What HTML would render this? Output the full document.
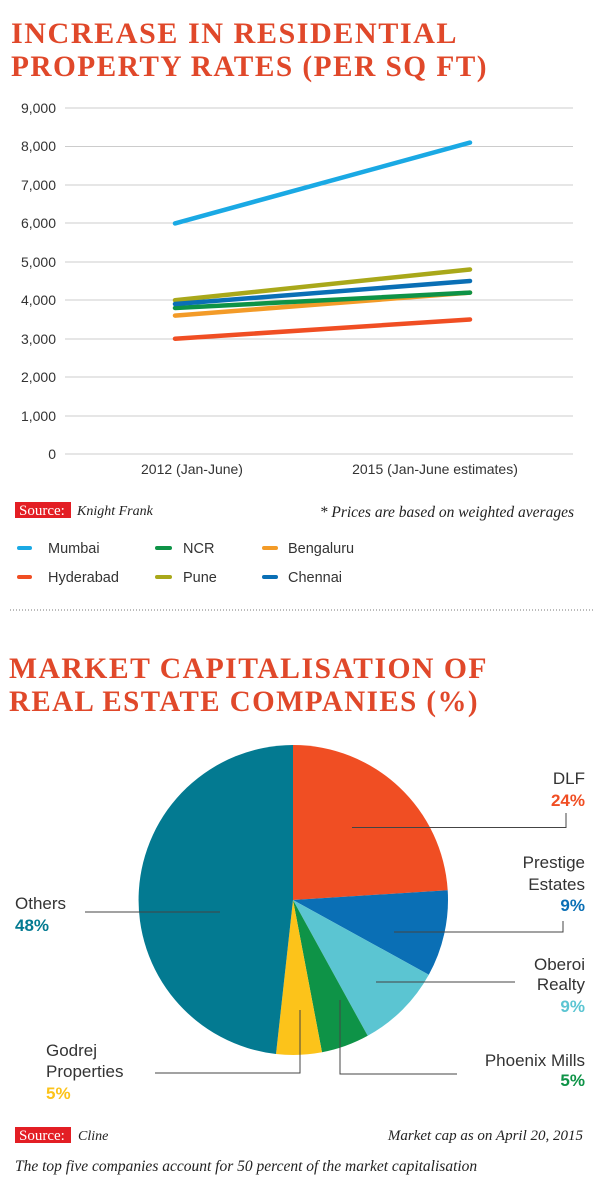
<!DOCTYPE html>
<html><head><meta charset="utf-8"><style>
body{margin:0;background:#fff;width:600px;height:1198px;overflow:hidden;}
</style></head><body>
<svg width="600" height="1198" xmlns="http://www.w3.org/2000/svg" font-family="Liberation Sans, sans-serif">
<g font-family="Liberation Serif, serif" font-weight="bold" fill="#e0482a" font-size="30" letter-spacing="1.5">
<text x="11" y="43" textLength="447" lengthAdjust="spacingAndGlyphs">INCREASE IN RESIDENTIAL</text>
<text x="11" y="76" textLength="477" lengthAdjust="spacingAndGlyphs">PROPERTY RATES (PER SQ FT)</text>
<text x="9" y="678" textLength="479" lengthAdjust="spacingAndGlyphs">MARKET CAPITALISATION OF</text>
<text x="9" y="711" textLength="470" lengthAdjust="spacingAndGlyphs">REAL ESTATE COMPANIES (%)</text>
</g>
<g stroke="#ccc" stroke-width="1">
<line x1="65" x2="573" y1="108" y2="108"/><line x1="65" x2="573" y1="146.5" y2="146.5"/><line x1="65" x2="573" y1="185" y2="185"/><line x1="65" x2="573" y1="223" y2="223"/><line x1="65" x2="573" y1="262" y2="262"/><line x1="65" x2="573" y1="300" y2="300"/><line x1="65" x2="573" y1="339" y2="339"/><line x1="65" x2="573" y1="377" y2="377"/><line x1="65" x2="573" y1="416" y2="416"/><line x1="65" x2="573" y1="454" y2="454"/>
</g>
<g font-size="14" fill="#333" text-anchor="end">
<text x="56" y="113">9,000</text><text x="56" y="151">8,000</text><text x="56" y="190">7,000</text><text x="56" y="228">6,000</text><text x="56" y="267">5,000</text><text x="56" y="305">4,000</text><text x="56" y="344">3,000</text><text x="56" y="382">2,000</text><text x="56" y="421">1,000</text><text x="56" y="459">0</text>
</g>
<g font-size="14" fill="#333" text-anchor="middle">
<text x="192" y="474">2012 (Jan-June)</text><text x="435" y="474">2015 (Jan-June estimates)</text>
</g>
<g stroke-width="4.5" stroke-linecap="round">
<line x1="175" y1="223.4" x2="470" y2="142.6" stroke="#1aa9e4"/>
<line x1="175" y1="300.2" x2="470" y2="269.5" stroke="#a9a81a"/>
<line x1="175" y1="315.6" x2="470" y2="292.6" stroke="#f39b28"/>
<line x1="175" y1="308" x2="470" y2="292.6" stroke="#0e9347"/>
<line x1="175" y1="304" x2="470" y2="281" stroke="#0a6fb5"/>
<line x1="175" y1="338.7" x2="470" y2="319.5" stroke="#f04e23"/>
</g>
<rect x="15" y="502" width="56" height="16" fill="#e31e24"/>
<text x="19" y="515" font-family="Liberation Serif, serif" font-size="15" fill="#fff">Source:</text>
<text x="77" y="515" font-family="Liberation Serif, serif" font-style="italic" font-size="14" fill="#222">Knight Frank</text>
<text x="574" y="517" text-anchor="end" font-family="Liberation Serif, serif" font-style="italic" font-size="15.5" fill="#222">* Prices are based on weighted averages</text>
<g stroke-width="4" stroke-linecap="round">
<line x1="19" x2="30" y1="548" y2="548" stroke="#1aa9e4"/><line x1="19" x2="30" y1="577" y2="577" stroke="#f04e23"/>
<line x1="157" x2="170" y1="548" y2="548" stroke="#0e9347"/><line x1="157" x2="170" y1="577" y2="577" stroke="#a9a81a"/>
<line x1="264" x2="276" y1="548" y2="548" stroke="#f39b28"/><line x1="264" x2="276" y1="577" y2="577" stroke="#0a6fb5"/>
</g>
<g font-size="14.5" fill="#333">
<text x="48" y="553">Mumbai</text><text x="48" y="582">Hyderabad</text>
<text x="183" y="553">NCR</text><text x="183" y="582">Pune</text>
<text x="288" y="553">Bengaluru</text><text x="288" y="582">Chennai</text>
</g>
<line x1="10" x2="593" y1="610" y2="610" stroke="#777" stroke-width="1" stroke-dasharray="1,2"/>
<g>
<path d="M293,900 L293,745 A155,155 0 0,1 447.7,890.3 Z" fill="#f04e23"/>
<path d="M293,900 L447.7,890.3 A155,155 0 0,1 428.8,974.7 Z" fill="#0a6fb5"/>
<path d="M293,900 L428.8,974.7 A155,155 0 0,1 367.7,1035.8 Z" fill="#5bc5d2"/>
<path d="M293,900 L367.7,1035.8 A155,155 0 0,1 322,1052.3 Z" fill="#0e9347"/>
<path d="M293,900 L322,1052.3 A155,155 0 0,1 276,1054 Z" fill="#fcc31a"/>
<path d="M293,900 L276,1054 A155,155 0 0,1 293,745 Z" fill="#037a91"/>
</g>
<g stroke="#444" stroke-width="1" fill="none">
<polyline points="352,827.5 566,827.5 566,813"/>
<polyline points="394,932 563,932 563,921"/>
<polyline points="376,982 515,982"/>
<polyline points="340,1000 340,1074 457,1074"/>
<polyline points="300,1010 300,1073 155,1073"/>
<polyline points="220,912 85,912"/>
</g>
<g font-size="17" fill="#333" text-anchor="end">
<text x="585" y="784">DLF</text>
<text x="585" y="868">Prestige</text><text x="585" y="890">Estates</text>
<text x="585" y="970">Oberoi</text><text x="585" y="990">Realty</text>
<text x="585" y="1066">Phoenix Mills</text>
</g>
<g font-size="17" font-weight="bold" text-anchor="end">
<text x="585" y="806" fill="#f04e23">24%</text>
<text x="585" y="911" fill="#0a6fb5">9%</text>
<text x="585" y="1012" fill="#5bc5d2">9%</text>
<text x="585" y="1086" fill="#0e9347">5%</text>
</g>
<g font-size="17" fill="#333">
<text x="15" y="909">Others</text>
<text x="46" y="1056">Godrej</text><text x="46" y="1077">Properties</text>
</g>
<g font-size="17" font-weight="bold">
<text x="15" y="931" fill="#037a91">48%</text>
<text x="46" y="1099" fill="#fcc31a">5%</text>
</g>
<rect x="15" y="1127" width="56" height="16" fill="#e31e24"/>
<text x="19" y="1140" font-family="Liberation Serif, serif" font-size="15" fill="#fff">Source:</text>
<text x="78" y="1140" font-family="Liberation Serif, serif" font-style="italic" font-size="14" fill="#222">Cline</text>
<text x="583" y="1140" text-anchor="end" font-family="Liberation Serif, serif" font-style="italic" font-size="15" fill="#222">Market cap as on April 20, 2015</text>
<text x="15" y="1171" font-family="Liberation Serif, serif" font-style="italic" font-size="15.5" fill="#222">The top five companies account for 50 percent of the market capitalisation</text>
</svg>
</body></html>
